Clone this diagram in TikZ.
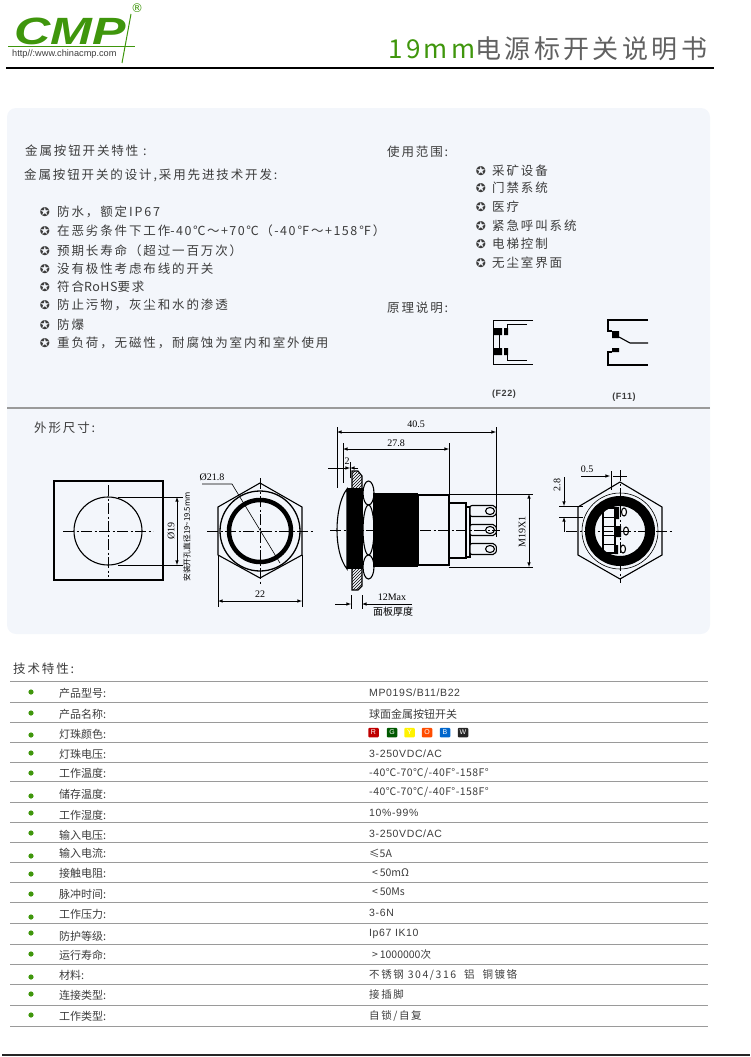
\documentclass[tikz,border=0pt]{standalone}
\usepackage{fontspec}
\usetikzlibrary{patterns}
\setmainfont{Noto Sans CJK SC}
\newfontfamily\cjk[LetterSpace=15]{Noto Sans CJK SC}
\newfontfamily\midsp[LetterSpace=12]{Noto Sans CJK SC}
\newfontfamily\tight[LetterSpace=4]{Noto Sans CJK SC}
\newfontfamily\titlefont[LetterSpace=13]{Noto Sans CJK SC}
\newfontfamily\valfont[LetterSpace=6]{Liberation Sans}
\newfontfamily\symfont{DejaVu Sans}
\newfontfamily\dimfont{Liberation Serif}
\newfontfamily\logofont{Liberation Sans}
\newcommand\zhcomma{\symbol{"FF0C}}
\newcommand\zhopen{\symbol{"FF08}}
\newcommand\zhclose{\symbol{"FF09}}
\definecolor{cmpgreen}{HTML}{3F960C}
\definecolor{panelblue}{HTML}{F3F6FB}
\definecolor{rulegray}{HTML}{9A9A9A}
\definecolor{bodygray}{HTML}{3C3C3C}
\tikzset{
  bodytext/.style={anchor=west,inner sep=0pt,text=bodygray,font=\cjk\fontsize{12.5}{14}\selectfont},
  starmark/.style={inner sep=0pt,text=bodygray,font=\symfont\fontsize{12}{12}\selectfont},
  rowlabel/.style={anchor=west,inner sep=0pt,text=bodygray,font=\fontsize{11}{13}\selectfont},
  rowvalue/.style={anchor=west,inner sep=0pt,text=bodygray,font=\valfont\fontsize{10.5}{13}\selectfont},
  dimtext/.style={inner sep=0pt,text=black,font=\dimfont\fontsize{10}{11}\selectfont},
  drawn/.style={line width=1.1pt,black},
  thinline/.style={line width=.6pt,black},
  dimline/.style={line width=.6pt,black,latex-latex},
  centerline/.style={line width=.7pt,black,dash pattern=on 11pt off 2.5pt on 2pt off 2.5pt},
  lampbox/.style={inner sep=0pt,minimum width=10.5pt,minimum height=9.5pt,rounded corners=1pt,font=\valfont\fontsize{7}{8}\selectfont},
}
\begin{document}
\begin{tikzpicture}[x=1pt,y=-1pt]
\useasboundingbox (0,0) rectangle (750,1057);
% head
\node[inner sep=0pt,text=cmpgreen,font=\logofont\bfseries\itshape\fontsize{38}{38}\selectfont] (logo) at (70,31) {\scalebox{1.32}[1]{CMP}};
\node[inner sep=0pt,text=cmpgreen,font=\symfont\fontsize{12}{12}\selectfont] (reg) at (137,8) {®};
\node[anchor=west,inner sep=0pt,text=bodygray,font=\logofont\fontsize{9.2}{9}\selectfont] (url) at (12,54.5) {http//:www.chinacmp.com};
\draw[cmpgreen,line width=1pt] (8,47) -- (135,47);
\draw[cmpgreen,line width=1pt] (131,14) -- (122,63);
\node[anchor=west,inner sep=0pt,font=\titlefont\fontsize{26}{28}\selectfont] (title) at (388,48.5) {\textcolor{cmpgreen}{19mm}\textcolor{black!62}{电源标开关说明书}};
\draw[black,line width=1.2pt] (6,68) -- (714,68);
% panel
\fill[panelblue,rounded corners=9pt] (7,108) rectangle (710,634);
\draw[rulegray,line width=2.2pt] (7,408) -- (710,408);
\begin{scope}[every node/.style={bodytext}]
    \node (feat) at (25,151) {金属按钮开关特性 :};
    \node (design) at (24,175) {金属按钮开关的设计,采用先进技术开发:};
    \node (usage) at (387,152) {使用范围:};
    \node (princ) at (387,308) {原理说明:};
    \node (outline) at (34,428) {外形尺寸:};
\end{scope}
\foreach \i/\y/\txt in {1/212/{防水\zhcomma 额定IP67},2/231/{在恶劣条件下工作{\midsp -40℃～+70℃\zhopen -40℉～+158℉\zhclose}},3/251/{预期长寿命\zhopen 超过一百万次\zhclose},4/269/{没有极性考虑布线的开关},5/287/{符合{\tight RoHS}要求},6/305/{防止污物\zhcomma 灰尘和水的渗透},7/325/{防爆},8/343/{重负荷\zhcomma 无磁性\zhcomma 耐腐蚀为室内和室外使用}}{
    \node[starmark] (star\i) at (45,\y) {✪};
    \node[bodytext] (item\i) at (57,\y) {\txt};
}
\foreach \i/\y/\txt in {1/171/采矿设备,2/188/门禁系统,3/207/医疗,4/226/紧急呼叫系统,5/244/电梯控制,6/263/无尘室界面}{
    \node[starmark] (ustar\i) at (481,\y) {✪};
    \node[bodytext] (use\i) at (492,\y) {\txt};
}
% F22
\draw[thinline] (533,320) -- (493,320) -- (493,364) -- (533,364);
\draw[thinline] (527,324) -- (507,324) -- (507,330);
\draw[thinline] (507,353) -- (507,360) -- (527,360);
\draw[thinline] (499,334) -- (499,348);
\fill[black] (493,328) rectangle (502,335) (504,328) rectangle (508,335);
\fill[black] (493,348) rectangle (502,355) (504,348) rectangle (508,355);
\node[inner sep=0pt,text=bodygray,font=\valfont\bfseries\fontsize{9}{9}\selectfont] (ftwo) at (504,394) {(F22)};
% F11
\draw[drawn] (648,320) -- (608,320) -- (608,331) -- (612,331);
\draw[drawn] (619,337) -- (630,343) -- (648,343);
\draw[drawn] (612,352) -- (608,352) -- (608,365) -- (648,365);
\fill[black] (612,331) rectangle (619,338) (612,348) rectangle (619,352);
\node[inner sep=0pt,text=bodygray,font=\valfont\bfseries\fontsize{9}{9}\selectfont] (fone) at (624,397) {(F11)};
% cut-out
\draw[line width=1.4pt] (54,481) rectangle (163,580);
\draw[drawn] (108,531) circle (34);
\draw[centerline] (63,531) -- (153,531);
\draw[centerline] (108,485) -- (108,577);
\draw[thinline] (118,497) -- (183,497) (118,565) -- (183,565);
\draw[dimline] (177,497) -- (177,565);
\node[dimtext,rotate=90] (cutdia) at (171,531) {Ø19};
\node[dimtext,rotate=90,font=\fontsize{7.8}{9}\selectfont] (cutnote) at (187,537) {安装开孔直径19\~{}19.5mm};
% front
\draw[drawn] (260,483) -- (302,507) -- (302,555) -- (260,578) -- (218,555) -- (218,507) -- cycle;
\draw[line width=1.3pt] (260,531) circle (40);
\draw[line width=4.5pt] (260,531) circle (31);
\draw[centerline] (207,531) -- (313,531);
\draw[centerline] (260,478) -- (260,585);
\node[dimtext] (hexdia) at (212,477) {Ø21.8};
\draw[thinline] (202,484) -- (232,484) -- (280,563);
\draw[thinline] (218,555) -- (218,607) (302,555) -- (302,607);
\draw[dimline] (218,601) -- (302,601);
\node[dimtext] (hexwid) at (260,594) {22};
% side
\draw[thinline] (337,427) -- (337,488) (496,427) -- (496,537);
\draw[thinline] (343,443) -- (343,483) (449,443) -- (449,495);
\draw[dimline] (337,432) -- (496,432);
\draw[dimline] (343,449) -- (449,449);
\node[dimtext] (dimtotal) at (416,424) {40.5};
\node[dimtext] (dimbody) at (396,443) {27.8};
\node[dimtext] (dimrim) at (347,461) {2};
\draw[thinline,-latex] (328,468) -- (350,468);
\draw[thinline,-latex] (358,468) -- (350,468);
\draw[thinline] (350,462) -- (350,478);
\draw[drawn,pattern=north east lines] (352,471) -- (358,471) -- (362,476) -- (362,494) -- (352,494) -- cycle;
\draw[drawn,pattern=north east lines] (352,568) -- (362,568) -- (362,586) -- (358,590) -- (352,590) -- cycle;
\draw[drawn,fill=panelblue] (347,489) .. controls (340,498) and (337,515) .. (337,530) .. controls (337,545) and (340,560) .. (347,569) -- cycle;
\fill[black] (347,488) rectangle (363,569);
\foreach \y/\ry in {493/12,530/25,567/12}{
    \draw[drawn,fill=panelblue] (368.5,\y) ellipse (5.5 and \ry);
}
\fill[black] (373,493) rectangle (418,567);
\draw[line width=1.4pt,fill=panelblue] (418,495) rectangle (449,565);
\draw[drawn,fill=panelblue] (449,503) rectangle (466,558);
\draw[drawn,fill=panelblue] (466,507) rectangle (470,557);
\foreach \y in {511,530,549}{
    \draw[drawn,fill=panelblue,rounded corners=2pt] (470,\y-5.5) -- (495,\y-5.5) -- (497,\y) -- (495,\y+5.5) -- (470,\y+5.5) -- cycle;
    \draw[drawn,fill=panelblue] (490,\y) ellipse (4.5 and 3.5);
}
\draw[centerline] (330,530) -- (500,530);
\draw[thinline] (449,494) -- (533,494) (449,567) -- (533,567);
\draw[dimline] (529,494) -- (529,567);
\node[dimtext,rotate=90] (dimthread) at (522,532) {M19X1};
\draw[thinline,-latex] (335,604) -- (351,604);
\draw[thinline,latex-] (362,604) -- (412,604);
\draw[thinline] (351,595) -- (351,609) (362,595) -- (362,609);
\node[dimtext] (dimmax) at (392,597) {12Max};
\node[dimtext,font=\fontsize{10}{11}\selectfont] (dimpanel) at (393,612) {面板厚度};
% rear
\draw[drawn] (620,482) -- (662,507) -- (662,555) -- (620,579) -- (578,555) -- (578,507) -- cycle;
\draw[thinline] (620,531) circle (38);
\draw[line width=10pt] (620,531) circle (30);
\draw[drawn] (603,508) rectangle (615,553);
\foreach \y in {517,526,535,544}{
    \draw[thinline] (603,\y) -- (615,\y);
}
\fill[black] (615,507) rectangle (619,519) (615,526) rectangle (621,537) (615,545) rectangle (618,554);
\draw[drawn,fill=white] (624,512) ellipse (2.5 and 4);
\draw[drawn,fill=white] (626,531) ellipse (2.5 and 4);
\draw[drawn,fill=white] (623,549) ellipse (2.5 and 4);
\draw[centerline] (566,531) -- (673,531);
\draw[centerline] (620,470) -- (620,583);
\node[dimtext] (rearpin) at (587,469) {0.5};
\draw[thinline,-latex] (581,476) -- (610,476);
\draw[thinline] (613,476) -- (627,476);
\draw[line width=1pt] (611.5,471) -- (611.5,490);
\draw[thinline] (559,506) -- (583,506) (559,517) -- (583,517);
\draw[thinline,-latex] (564,477) -- (564,506);
\draw[thinline,latex-] (564,517) -- (564,532);
\node[dimtext,rotate=90] (rearpitch) at (557,485) {2.8};
% table
\node[bodytext] (spec) at (13,669) {技术特性:};
\foreach \y in {681,702,722,742,762,781,802,822,842,862,882,902,923,944,964,984,1005,1026}{
    \draw[rulegray,line width=1pt] (10,\y) -- (708,\y);
}
\foreach \i/\by/\ly/\lab in {
  1/692/693/产品型号:,2/713/714/产品名称:,3/735/734/灯珠颜色:,4/753/754/灯珠电压:,
  5/773/773/工作温度:,6/796/794/储存温度:,7/813/815/工作湿度:,8/833/835/输入电压:,
  9/856/853/输入电流:,10/874/873/接触电阻:,11/894/894/脉冲时间:,12/917/914/工作压力:,
  13/933/936/防护等级:,14/954/955/运行寿命:,15/977/975/材料:,16/994/995/连接类型:,17/1015/1016/工作类型:}{
    \fill[cmpgreen] (31,\by) circle (2.6);
    \node[rowlabel] (lab\i) at (59,\ly) {\lab};
}
\begin{scope}[every node/.style={rowvalue}]
    \node (val1) at (369,693) {MP019S/B11/B22};
    \node[font=\fontsize{11}{13}\selectfont] (val2) at (369,714) {球面金属按钮开关};
    \node (val4) at (369,754) {3-250VDC/AC};
    \node[font=\tight\fontsize{10.5}{13}\selectfont] (val5) at (369,773) {-40℃-70℃/-40F°-158F°};
    \node[font=\tight\fontsize{10.5}{13}\selectfont] (val6) at (369,792) {-40℃-70℃/-40F°-158F°};
    \node (val7) at (369,813) {10\%-99\%};
    \node (val8) at (369,834) {3-250VDC/AC};
    \node[font=\fontsize{10.5}{13}\selectfont] (val9) at (369,853) {≤5A};
    \node[font=\fontsize{10.5}{13}\selectfont] (val10) at (372,873) {<\,50mΩ};
    \node[font=\fontsize{10.5}{13}\selectfont] (val11) at (372,892) {<\,50Ms};
    \node (val12) at (369,913) {3-6N};
    \node (val13) at (369,934) {Ip67 IK10};
    \node[font=\fontsize{10.5}{13}\selectfont] (val14) at (372,955) {>\,1000000次};
    \node[font=\cjk\fontsize{10.5}{13}\selectfont] (val15) at (369,975) {不锈钢 304/316\ \ 铝\ \ 铜镀铬};
    \node[font=\cjk\fontsize{10.5}{13}\selectfont] (val16) at (369,995) {接插脚};
    \node[font=\cjk\fontsize{10.5}{13}\selectfont] (val17) at (369,1016) {自锁/自复};
\end{scope}
\foreach \n/\x/\boxcol/\txtcol in {R/373.5/red!75!black/white,G/392/green!35!black/white,Y/409.5/yellow/white,O/427/orange!60!red/white,B/445/blue!50!cyan!80!black/white,W/463/black!85/white}{
    \node[lampbox,fill=\boxcol,text=\txtcol] (lamp\n) at (\x,732.5) {\n};
}
% foot
\draw[black!85,line width=2pt] (2,1055) -- (750,1055);
\end{tikzpicture}
\end{document}
